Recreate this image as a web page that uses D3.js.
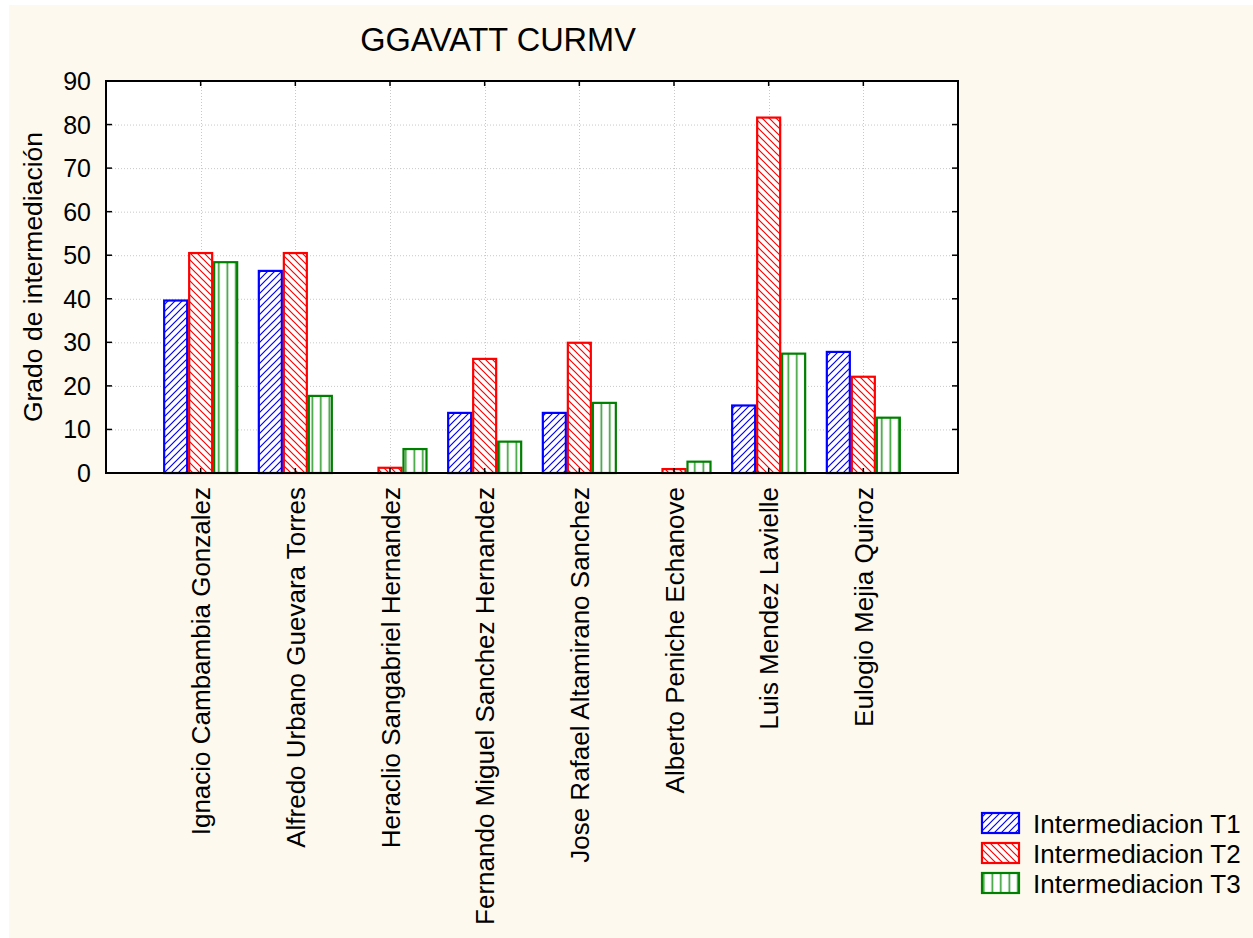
<!DOCTYPE html>
<html>
<head>
<meta charset="utf-8">
<script src="https://cdn.jsdelivr.net/npm/d3@7"></script>
<style>
  html, body { margin: 0; padding: 0; background: #ffffff; }
  svg { display: block; font-family: "Liberation Sans", Arial, sans-serif; }
</style>
</head>
<body>
<script>
const categories = [
  "Ignacio Cambambia Gonzalez",
  "Alfredo Urbano Guevara Torres",
  "Heraclio Sangabriel Hernandez",
  "Fernando Miguel Sanchez Hernandez",
  "Jose Rafael Altamirano Sanchez",
  "Alberto Peniche Echanove",
  "Luis Mendez Lavielle",
  "Eulogio Mejia Quiroz"
];
const seriesNames = ["Intermediacion T1", "Intermediacion T2", "Intermediacion T3"];
const t1 = [39.6, 46.4, 0, 13.8, 13.8, 0, 15.5, 27.8];
const t2 = [50.5, 50.5, 1.2, 26.2, 29.9, 0.9, 81.6, 22.1];
const t3 = [48.4, 17.7, 5.5, 7.2, 16.1, 2.6, 27.4, 12.7];
const yTicks = [0, 10, 20, 30, 40, 50, 60, 70, 80, 90];
const title = "GGAVATT CURMV";
const yLabel = "Grado de intermediación";

const seriesValues = [t1, t2, t3];
const colors = ["#0000ff", "#ff0000", "#008000"];

const W = 1253, H = 938;
const plot = { left: 106, right: 958, top: 81, bottom: 473 };

const svg = d3.select("body").append("svg").attr("width", W).attr("height", H);

// background
svg.append("rect").attr("x", 0).attr("y", 0).attr("width", W).attr("height", H).attr("fill", "#ffffff");
svg.append("rect").attr("x", 9).attr("y", 5).attr("width", W - 9).attr("height", H - 5).attr("fill", "#fef9ee");

// patterns
const defs = svg.append("defs");
const p1 = defs.append("pattern").attr("id", "pat0").attr("patternUnits", "userSpaceOnUse")
  .attr("width", 7).attr("height", 7);
p1.append("rect").attr("width", 7).attr("height", 7).attr("fill", "#ffffff");
p1.append("path").attr("d", "M-1,1 L1,-1 M0,7 L7,0 M6,8 L8,6").attr("stroke", colors[0]).attr("stroke-width", 1.2);
const p2 = defs.append("pattern").attr("id", "pat1").attr("patternUnits", "userSpaceOnUse")
  .attr("width", 7).attr("height", 7);
p2.append("rect").attr("width", 7).attr("height", 7).attr("fill", "#ffffff");
p2.append("path").attr("d", "M-1,6 L1,8 M0,0 L7,7 M6,-1 L8,1").attr("stroke", colors[1]).attr("stroke-width", 1.2);
const p3 = defs.append("pattern").attr("id", "pat2").attr("patternUnits", "userSpaceOnUse")
  .attr("width", 8.5).attr("height", 10).attr("x", 2);
p3.append("rect").attr("width", 8.5).attr("height", 10).attr("fill", "#ffffff");
p3.append("rect").attr("x", 3.5).attr("width", 1.6).attr("height", 10).attr("fill", "#2f9a2f");

// scales
const x = d3.scaleLinear().domain([0, categories.length + 1]).range([plot.left, plot.right]);
const y = d3.scaleLinear().domain([0, 90]).range([plot.bottom, plot.top]);
const groupW = 75;
const xs = d3.scaleBand().domain(d3.range(seriesNames.length)).range([-groupW / 2, groupW / 2]).padding(0);

// plot area
svg.append("rect").attr("x", plot.left).attr("y", plot.top)
  .attr("width", plot.right - plot.left).attr("height", plot.bottom - plot.top).attr("fill", "#ffffff");

// gridlines
const grid = svg.append("g").attr("stroke", "#c8c8c8").attr("stroke-width", 1).attr("stroke-dasharray", "1,2");
yTicks.filter(t => t > 0 && t < 90).forEach(t => {
  grid.append("line").attr("x1", plot.left).attr("x2", plot.right).attr("y1", y(t) + 0.5).attr("y2", y(t) + 0.5);
});
categories.forEach((c, i) => {
  grid.append("line").attr("x1", Math.round(x(i + 1)) + 0.5).attr("x2", Math.round(x(i + 1)) + 0.5)
    .attr("y1", plot.top).attr("y2", plot.bottom);
});

// bars
seriesValues.forEach((vals, s) => {
  const data = vals.map((v, i) => ({ v, i })).filter(d => d.v > 0);
  svg.append("g").selectAll("rect").data(data).join("rect")
    .attr("x", d => x(d.i + 1) + xs(s) + 1)
    .attr("y", d => y(d.v))
    .attr("width", xs.bandwidth() - 2)
    .attr("height", d => y(0) - y(d.v))
    .attr("fill", `url(#pat${s})`)
    .attr("stroke", colors[s])
    .attr("stroke-width", 2.2);
});

// frame
svg.append("rect").attr("x", plot.left).attr("y", plot.top)
  .attr("width", plot.right - plot.left).attr("height", plot.bottom - plot.top)
  .attr("fill", "none").attr("stroke", "#000").attr("stroke-width", 2);

// ticks (inward)
const tickG = svg.append("g").attr("stroke", "#000").attr("stroke-width", 1.5);
yTicks.forEach(t => {
  tickG.append("line").attr("x1", plot.left).attr("x2", plot.left + 6).attr("y1", y(t)).attr("y2", y(t));
  tickG.append("line").attr("x1", plot.right).attr("x2", plot.right - 6).attr("y1", y(t)).attr("y2", y(t));
});
categories.forEach((c, i) => {
  const cx = x(i + 1);
  tickG.append("line").attr("x1", cx).attr("x2", cx).attr("y1", plot.top).attr("y2", plot.top + 5);
  tickG.append("line").attr("x1", cx).attr("x2", cx).attr("y1", plot.bottom).attr("y2", plot.bottom - 5);
});

// y tick labels
svg.append("g").selectAll("text").data(yTicks).join("text")
  .attr("x", 91).attr("y", d => y(d)).attr("dy", "0.36em")
  .attr("text-anchor", "end").attr("font-size", 25).attr("fill", "#000")
  .text(d => d);

// category labels
svg.append("g").selectAll("text").data(categories).join("text")
  .attr("transform", (d, i) => `translate(${x(i + 1) + 9.5},487) rotate(-90)`)
  .attr("text-anchor", "end").attr("font-size", 26).attr("fill", "#000")
  .text(d => d);

// title
svg.append("text").attr("x", 498).attr("y", 51).attr("text-anchor", "middle")
  .attr("font-size", 32.5).attr("fill", "#000").text(title);

// y label
svg.append("text").attr("transform", `translate(42,${(plot.top + plot.bottom) / 2}) rotate(-90)`)
  .attr("text-anchor", "middle").attr("font-size", 26.5).attr("fill", "#000").text(yLabel);

// legend
const leg = svg.append("g");
seriesNames.forEach((n, s) => {
  const ly = 813 + s * 30;
  leg.append("rect").attr("x", 982).attr("y", ly).attr("width", 37).attr("height", 20)
    .attr("fill", `url(#pat${s})`).attr("stroke", colors[s]).attr("stroke-width", 2.2);
  leg.append("text").attr("x", 1033).attr("y", ly + 20).attr("font-size", 26).attr("fill", "#000").text(n);
});
</script>
</body>
</html>
